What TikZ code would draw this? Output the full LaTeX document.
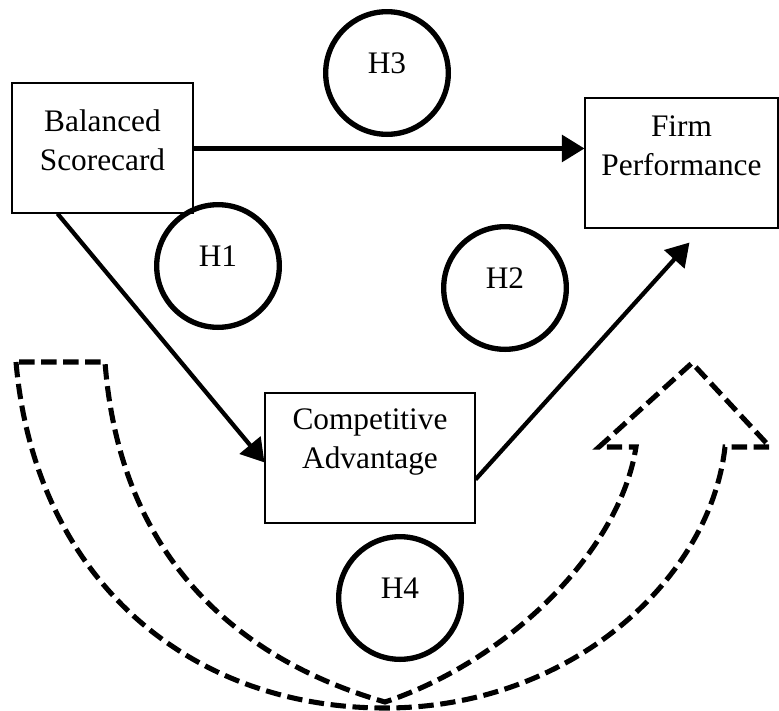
\documentclass[tikz,border=0pt]{standalone}
\usepackage{fontspec}
\setmainfont{Liberation Serif}
\usetikzlibrary{arrows.meta, calc}

\begin{document}
\begin{tikzpicture}[
  x=0.75pt, y=-0.75pt,
  % boxes keep their text near the top, as in the source figure
  conbox/.style={rectangle, draw, line width=0.8pt, minimum width=#1,
                 minimum height=97.5pt, align=center,
                 font=\fontsize{23.5}{29.5}\selectfont},
  hypo/.style={circle, draw, line width=4pt, minimum size=92pt, inner sep=0pt,
               text height=10pt, text depth=10pt,
               font=\fontsize{23.5}{28}\selectfont},
  arr/.style={-{Triangle[length=17pt, width=20pt]}, line width=3.2pt},
  uturn/.style={line width=3.8pt, dash pattern=on 11.5pt off 5pt}
]
\useasboundingbox (0,0) rectangle (779,711);

% Constructs
\node[conbox=135.75pt, text depth=12pt] (bsc) at (102.5,148) {Balanced\\Scorecard};
\node[conbox=144.75pt, text depth=26pt] (fp)  at (681.5,163) {Firm\\Performance};
\node[conbox=157.5pt,  text depth=29pt] (ca)  at (370,458)   {Competitive\\Advantage};

% Hypotheses
\node[hypo] (h1) at (218,266) {H1};
\node[hypo] (h2) at (505,288) {H2};
\node[hypo] (h3) at (387,73)  {H3};
\node[hypo] (h4) at (400,598) {H4};

% Paths
\coordinate (fptip) at ($(fp.south west)+(105,14)$);
\draw[arr] ($(bsc.north east)+(0,66)$) -- ($(fp.north west)+(0,51)$);
\draw[arr] ($(bsc.south west)+(46,0)$) -- ($(ca.north west)+(0,70)$);
\draw[arr] ($(ca.north east)+(0,87)$) -- (fptip);

% Mediation arrow
\draw[uturn] (16,362) .. controls (35,580) and (190,708) .. (385,708)
  .. controls (570,708) and (710,580) .. (725,447)
  -- (770,447) -- (692,363) -- (599,447) -- (636,447)
  .. controls (620,550) and (510,660) .. (385,702)
  .. controls (240,660) and (120,560) .. (105,362) -- cycle;

\end{tikzpicture}
\end{document}
